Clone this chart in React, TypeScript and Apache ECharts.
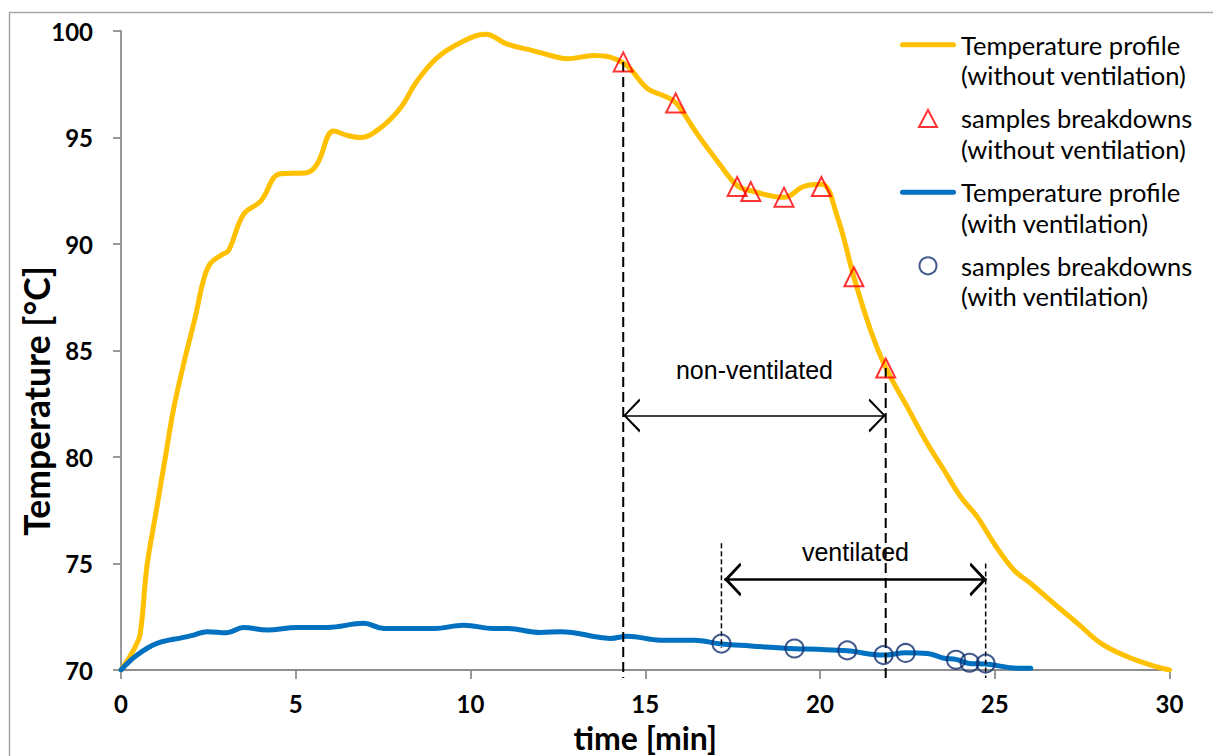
import React, { useEffect, useRef } from "react";
import * as echarts from "echarts";

// ---- data ----
const noVentTime = [0, 0.2, 0.41, 0.55, 0.74, 0.98, 1.27, 1.51, 1.84, 2.13, 2.36, 2.56, 2.89, 3.08, 3.51, 3.99, 4.56, 5.32, 5.61, 6.09, 6.47, 6.85, 7.42, 8.0, 8.47, 9.05, 9.71, 10.43, 11.05, 11.81, 12.29, 12.77, 13.53, 14.37, 15.06, 15.53, 15.87, 16.49, 17.06, 17.63, 18.02, 18.97, 19.54, 20.04, 20.5, 20.97, 21.45, 21.88, 22.5, 23.07, 23.55, 24.03, 24.5, 24.98, 25.55, 26.03, 26.8, 27.37, 28.04, 28.8, 29.47, 30];
const noVentTemp = [70, 70.5, 71.1, 71.7, 74.84, 77.2, 80.0, 82.3, 84.7, 86.6, 88.3, 89.1, 89.5, 89.7, 91.4, 92.0, 93.3, 93.35, 93.75, 95.3, 95.1, 95.0, 95.45, 96.4, 97.65, 98.75, 99.45, 99.85, 99.38, 99.07, 98.85, 98.7, 98.85, 98.5, 97.3, 96.96, 96.64, 95.16, 93.9, 92.74, 92.5, 92.19, 92.7, 92.8, 91.25, 88.44, 85.94, 84.2, 82.34, 80.63, 79.38, 78.12, 77.19, 75.94, 74.69, 74.06, 72.97, 72.19, 71.25, 70.62, 70.23, 70];

const ventTime = [0, 0.46, 1.03, 1.79, 2.08, 2.46, 3.03, 3.51, 4.18, 5.04, 5.9, 6.95, 7.52, 8.95, 9.81, 10.67, 11.05, 12.0, 12.58, 13.72, 14.01, 14.49, 15.44, 16.39, 17.18, 18.02, 19.28, 19.93, 20.78, 21.83, 22.45, 23.07, 23.55, 23.89, 24.27, 24.74, 25.74, 26.03];
const ventTemp = [70, 70.7, 71.25, 71.53, 71.64, 71.8, 71.75, 72.0, 71.88, 72.0, 72.0, 72.19, 71.95, 71.95, 72.1, 71.95, 71.95, 71.76, 71.8, 71.53, 71.48, 71.59, 71.4, 71.4, 71.22, 71.13, 71.0, 70.97, 70.9, 70.7, 70.81, 70.78, 70.55, 70.5, 70.31, 70.28, 70.08, 70.08];

const noVentSampleTime = [14.37, 15.87, 17.63, 18.02, 18.97, 20.04, 20.97, 21.88];
const noVentSampleTemp = [98.55, 96.62, 92.7, 92.46, 92.2, 92.7, 88.46, 84.18];

const ventSampleTime = [17.18, 19.27, 20.78, 21.82, 22.45, 23.89, 24.28, 24.74];
const ventSampleTemp = [71.24, 71.01, 70.92, 70.7, 70.8, 70.48, 70.34, 70.3];

const seriesNames = [
  "Temperature profile\n(without ventilation)",
  "samples breakdowns\n(without ventilation)",
  "Temperature profile\n(with ventilation)",
  "samples breakdowns\n(with ventilation)",
];

const xAxisRange = { min: 0, max: 30, interval: 5 };
const yAxisRange = { min: 70, max: 100, interval: 5 };
const xAxisName = "time [min]";
const yAxisName = "Temperature [°C]";

// guide lines: [x, yTop, yBottom]
const thickGuides = [
  [14.37, 98.55, 69.63],
  [21.88, 84.18, 69.63],
];
const thinGuides = [
  [17.18, 75.95, 71.03],
  [24.74, 75.0, 69.63],
];
// spans: [xStart, xEnd, y]
const annotationLabels = ["non-ventilated", "ventilated"];
const nonVentSpan = [14.37, 21.88, 81.95];
const ventSpan = [17.26, 24.77, 74.25];

const zip = (a: number[], b: number[]) => a.map((v, i) => [v, b[i]]);

const chevronThin =
  "path://M10,-16.8 L10.001,-16.8 Z M10,0 L20,16 L18.6,16.8 L10,2.6 L1.4,16.8 L0,16 Z";
const chevronThick =
  "path://M10,-16.8 L10.001,-16.8 Z M10,0 L20,16 L18.2,17 L10,4.0 L1.8,17 L0,16 Z";

const legendLineIcon =
  "path://M2.5,0 L53.5,0 A2.5,2.5 0 0 1 53.5,5 L2.5,5 A2.5,2.5 0 0 1 2.5,0 Z";
const legendTriangleIcon = "path://M9,0 L18,17 L0,17 Z";

const calibri = "Lato, 'Open Sans', sans-serif";
const arial = "'Liberation Sans', Arial, sans-serif";

const navy = "#132F6E";

export default function App() {
  const ref = useRef<HTMLDivElement>(null);

  useEffect(() => {
    if (!ref.current) return;
    const chart = echarts.init(ref.current, undefined, { renderer: "svg", width: 1213, height: 756 });

    const guideSeries = (g: number[], thick: boolean, mark?: any) => ({
      type: "line",
      name: "",
      data: [
        [g[0], g[1]],
        [g[0], g[2]],
      ],
      symbol: "none",
      clip: false,
      silent: true,
      z: 3,
      lineStyle: {
        color: "#000",
        width: thick ? 2 : 1.5,
        type: thick ? [10, 5] : [5, 3],
      },
      markLine: mark,
    });

    const arrowMark = (span: number[], label: string, thick: boolean, dist: number) => ({
      silent: true,
      symbol: [thick ? chevronThick : chevronThin, thick ? chevronThick : chevronThin],
      symbolSize: 34,
      lineStyle: { color: "#000", width: thick ? 2.5 : 1.5, type: "solid" },
      label: {
        show: true,
        position: "insideMiddleTop",
        formatter: label,
        distance: dist,
        fontFamily: arial,
        fontSize: 25,
        color: "#000",
      },
      emphasis: { disabled: true },
      data: [[{ coord: [span[0], span[2]] }, { coord: [span[1], span[2]] }]],
    });

    const option: any = {
      animation: false,
      backgroundColor: "#fff",
      grid: {
        left: 121,
        right: 43.5,
        top: 31,
        bottom: 86,
        containLabel: false,
        outerBoundsMode: "none",
      },
      xAxis: {
        type: "value",
        min: xAxisRange.min,
        max: xAxisRange.max,
        interval: xAxisRange.interval,
        name: xAxisName,
        nameLocation: "middle",
        nameGap: 52,
        nameMoveOverlap: false,
        nameTextStyle: {
          fontFamily: calibri,
          fontSize: 32,
          lineHeight: 30,
          fontWeight: "bold",
          color: "#000",
        },
        axisLine: { show: true, lineStyle: { color: "#8e8e8e", width: 1.8 } },
        axisTick: { show: true, inside: false, length: 9, lineStyle: { color: "#8e8e8e", width: 1.8 } },
        axisLabel: {
          margin: 22,
          fontFamily: calibri,
          fontSize: 24,
          lineHeight: 22,
          fontWeight: "bold",
          color: "#000",
        },
        splitLine: { show: false },
      },
      yAxis: {
        type: "value",
        min: yAxisRange.min,
        max: yAxisRange.max,
        interval: yAxisRange.interval,
        name: yAxisName,
        nameLocation: "middle",
        nameGap: 67,
        nameMoveOverlap: false,
        nameTextStyle: {
          fontFamily: calibri,
          fontSize: 35.5,
          fontWeight: "bold",
          color: "#000",
          padding: [0, 101, 0, 0],
        },
        axisLine: { show: true, lineStyle: { color: "#8e8e8e", width: 1.8 } },
        axisTick: { show: true, inside: false, length: 8, lineStyle: { color: "#8e8e8e", width: 1.8 } },
        axisLabel: { margin: 28, fontFamily: calibri, fontSize: 24, fontWeight: "bold", color: "#000" },
        splitLine: { show: false },
      },
      legend: {
        data: [
          { name: seriesNames[0], icon: legendLineIcon, itemStyle: { color: "#FFC000", borderWidth: 0 } },
          {
            name: seriesNames[1],
            icon: legendTriangleIcon,
            itemStyle: { color: "rgba(0,0,0,0)", borderColor: "#FF0000", borderWidth: 2 },
          },
          { name: seriesNames[2], icon: legendLineIcon, itemStyle: { color: "#0070C0", borderWidth: 0 } },
          {
            name: seriesNames[3],
            icon: "circle",
            itemStyle: { color: "rgba(0,0,0,0)", borderColor: navy, borderWidth: 2 },
          },
        ],
        formatter: (name: string) => "\n" + name,
        orient: "vertical",
        left: 900,
        top: -1,
        padding: 0,
        itemGap: -17.8,
        itemWidth: 56,
        itemHeight: 17,
        selectedMode: false,
        textStyle: {
          fontFamily: calibri,
          fontSize: 25.5,
          color: "#000",
          lineHeight: 30.5,
        },
      },
      graphic: [
        {
          type: "rect",
          left: 7,
          top: 10,
          shape: { width: 1230, height: 780 },
          style: { fill: "none", stroke: "#a6a6a6", lineWidth: 1.5 },
          silent: true,
          z: -10,
        },
      ],
      series: [
        {
          type: "line",
          name: seriesNames[0],
          data: zip(noVentTime, noVentTemp),
          symbol: "none",
          smooth: 0.4,
          z: 2,
          lineStyle: { color: "#FFC000", width: 5, cap: "round" },
          itemStyle: { color: "#FFC000" },
        },
        {
          type: "line",
          name: seriesNames[2],
          data: zip(ventTime, ventTemp),
          symbol: "none",
          smooth: 0.4,
          z: 2,
          lineStyle: { color: "#0070C0", width: 5, cap: "round" },
          itemStyle: { color: "#0070C0" },
        },
        guideSeries(thickGuides[0], true, arrowMark(nonVentSpan, annotationLabels[0], false, 33)),
        guideSeries(thickGuides[1], true),
        guideSeries(thinGuides[0], false, arrowMark(ventSpan, annotationLabels[1], true, 15)),
        guideSeries(thinGuides[1], false),
        {
          type: "scatter",
          name: seriesNames[1],
          data: zip(noVentSampleTime, noVentSampleTemp),
          symbol: "triangle",
          symbolSize: 19,
          z: 5,
          itemStyle: { color: "rgba(0,0,0,0)", borderColor: "#FF0000", borderWidth: 2 },
        },
        {
          type: "scatter",
          name: seriesNames[3],
          data: zip(ventSampleTime, ventSampleTemp),
          symbol: "circle",
          symbolSize: 18,
          z: 5,
          itemStyle: { color: "rgba(0,0,0,0)", borderColor: navy, borderWidth: 2 },
        },
      ],
    };

    chart.setOption(option);
    return () => chart.dispose();
  }, []);

  return (
    <div
      ref={ref}
      style={{ position: "fixed", left: 0, top: 0, width: 1213, height: 756, background: "#fff" }}
    />
  );
}
